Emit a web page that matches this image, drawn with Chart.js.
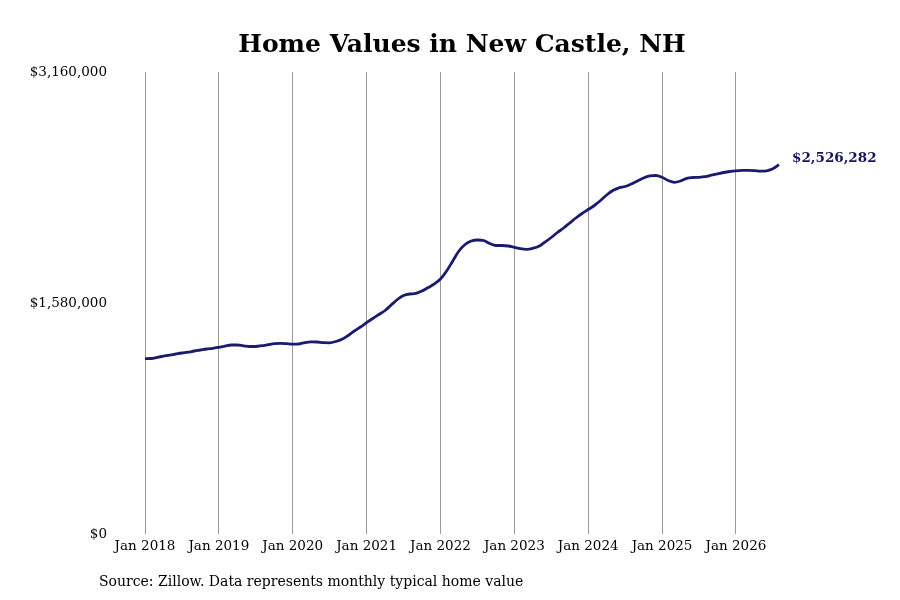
<!DOCTYPE html>
<html>
<head>
<meta charset="utf-8">
<title>Home Values in New Castle, NH</title>
<script src="https://cdn.jsdelivr.net/npm/chart.js@4.4.1/dist/chart.umd.min.js"></script>
<style>
  html, body { margin: 0; padding: 0; background: #ffffff; }
  #wrap { width: 900px; height: 600px; position: relative; }
</style>
</head>
<body>
<div id="wrap"><canvas id="homeValuesChart"></canvas></div>
<script>
const chartTitle = "Home Values in New Castle, NH";
const sourceNote = "Source: Zillow. Data represents monthly typical home value";

const monthNames = ["Jan", "Feb", "Mar", "Apr", "May", "Jun", "Jul", "Aug", "Sep", "Oct", "Nov", "Dec"];
const startYear = 2018;

// monthly typical home value, Jan 2018 .. Aug 2026
const homeValues = [
  1199000, 1200400, 1208600, 1216100, 1224300, 1231200, 1238000, 1243500, 1251700, 1258500, 1265400, 1270200,
  1277000, 1284500, 1292700, 1292700, 1287300, 1282500, 1282500, 1287900, 1294800, 1301600, 1304400, 1301600,
  1298200, 1299600, 1309800, 1314600, 1313200, 1308500, 1307800, 1316700, 1331700, 1357700, 1388500, 1415800,
  1445300, 1474000, 1501300, 1528700, 1566300, 1603900, 1631300, 1641600, 1645000, 1662100, 1686000, 1710000,
  1744100, 1798900, 1867300, 1935700, 1980100, 2004100, 2010900, 2007500, 1987000, 1973300, 1973300, 1969900,
  1961000, 1951400, 1947300, 1954100, 1967800, 1997200, 2028000, 2062200, 2093000, 2127200, 2161400, 2192200,
  2219500, 2246900, 2281100, 2318700, 2349500, 2367900, 2376800, 2393900, 2414500, 2435000, 2450000, 2452100,
  2439800, 2417900, 2405600, 2414500, 2432900, 2438400, 2439800, 2443900, 2454100, 2463700, 2472600, 2479400,
  2484200, 2487000, 2487700, 2485600, 2481500, 2484200, 2497900, 2526282
];

const yTicks = [0, 1580000, 3160000];

const monthLabels = homeValues.map((_, i) => {
  const year = startYear + Math.floor(i / 12);
  return `${monthNames[i % 12]} ${year}`;
});

function formatDollars(value) {
  return "$" + Number(value).toLocaleString("en-US");
}

const lineColor = "#1a1a6e";
const gridColor = "#9a9a9a";
const serif = "'DejaVu Serif', serif";

const headerFooterPlugin = {
  id: "headerFooter",
  afterDraw(chart) {
    const { ctx, chartArea } = chart;
    ctx.save();
    ctx.fillStyle = "#000000";
    ctx.textBaseline = "middle";
    ctx.textAlign = "center";
    ctx.font = `bold 25px ${serif}`;
    ctx.fillText(chartTitle, (chartArea.left + chartArea.right) / 2, 45);

    ctx.textAlign = "left";
    ctx.font = `14px ${serif}`;
    ctx.fillText(sourceNote, 99, 582);

    // last value label next to the end of the line
    const meta = chart.getDatasetMeta(0);
    const last = meta.data[meta.data.length - 1];
    if (last) {
      ctx.font = `bold 13.5px ${serif}`;
      ctx.fillStyle = "#14145a";
      ctx.fillText(formatDollars(homeValues[homeValues.length - 1]), last.x + 13, last.y - 6);
    }
    ctx.restore();
  }
};

const chart = new Chart(document.getElementById("homeValuesChart"), {
  type: "line",
  data: {
    labels: monthLabels,
    datasets: [
      {
        label: "Home value",
        data: homeValues,
        borderColor: lineColor,
        borderWidth: 2.8,
        pointRadius: 0,
        pointHoverRadius: 0,
        tension: 0.4,
        cubicInterpolationMode: "monotone",
        fill: false
      }
    ]
  },
  options: {
    responsive: true,
    maintainAspectRatio: false,
    animation: false,
    layout: {
      padding: { left: 0, right: 121, top: 72, bottom: 0 }
    },
    plugins: {
      legend: { display: false },
      title: { display: false },
      tooltip: { enabled: false }
    },
    scales: {
      x: {
        type: "category",
        offset: false,
        border: { display: false },
        grid: {
          drawTicks: false,
          lineWidth: 1,
          color: (ctx) => (ctx.index % 12 === 0 ? gridColor : "rgba(0,0,0,0)")
        },
        ticks: {
          autoSkip: false,
          maxRotation: 0,
          minRotation: 0,
          padding: 4,
          color: "#000000",
          font: { family: serif, size: 13.5 },
          callback: (value, index) => (index % 12 === 0 ? monthLabels[index] : "")
        },
        afterFit: (scale) => { scale.height = 66; }
      },
      y: {
        min: 0,
        max: 3160000,
        border: { display: false },
        grid: { display: false, drawTicks: false },
        afterBuildTicks: (scale) => { scale.ticks = yTicks.map(v => ({ value: v })); },
        ticks: {
          padding: 38,
          color: "#000000",
          font: { family: serif, size: 13.5 },
          callback: (value) => formatDollars(value)
        },
        afterFit: (scale) => { scale.width = 145; }
      }
    }
  },
  plugins: [headerFooterPlugin]
});
</script>
</body>
</html>
